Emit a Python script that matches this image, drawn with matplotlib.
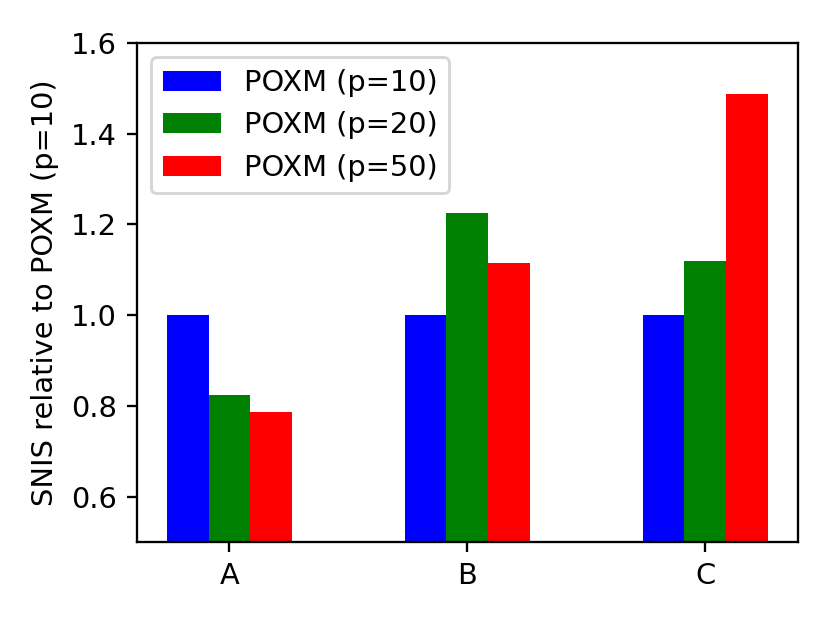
import numpy as np
import matplotlib
matplotlib.use("Agg")
import matplotlib.pyplot as plt

categories = ["A", "B", "C"]
poxm_p10 = [1.0, 1.0, 1.0]
poxm_p20 = [0.823, 1.226, 1.120]
poxm_p50 = [0.786, 1.114, 1.487]

dpi = 207.5
fig, ax = plt.subplots(figsize=(830 / dpi, 623 / dpi), dpi=dpi)
fig.subplots_adjust(left=0.165, right=0.961, top=0.931, bottom=0.130)

x = np.arange(len(categories))
width = 0.175

ax.bar(x - width, poxm_p10, width, color="blue", label="POXM (p=10)")
ax.bar(x, poxm_p20, width, color="green", label="POXM (p=20)")
ax.bar(x + width, poxm_p50, width, color="red", label="POXM (p=50)")

ax.set_xticks(x)
ax.set_xticklabels(categories)
ax.set_ylim(0.5, 1.6)
ax.set_yticks([0.6, 0.8, 1.0, 1.2, 1.4, 1.6])
ax.set_ylabel("SNIS relative to POXM (p=10)")
ax.legend(loc="upper left")

plt.savefig("out.png", dpi=dpi)
